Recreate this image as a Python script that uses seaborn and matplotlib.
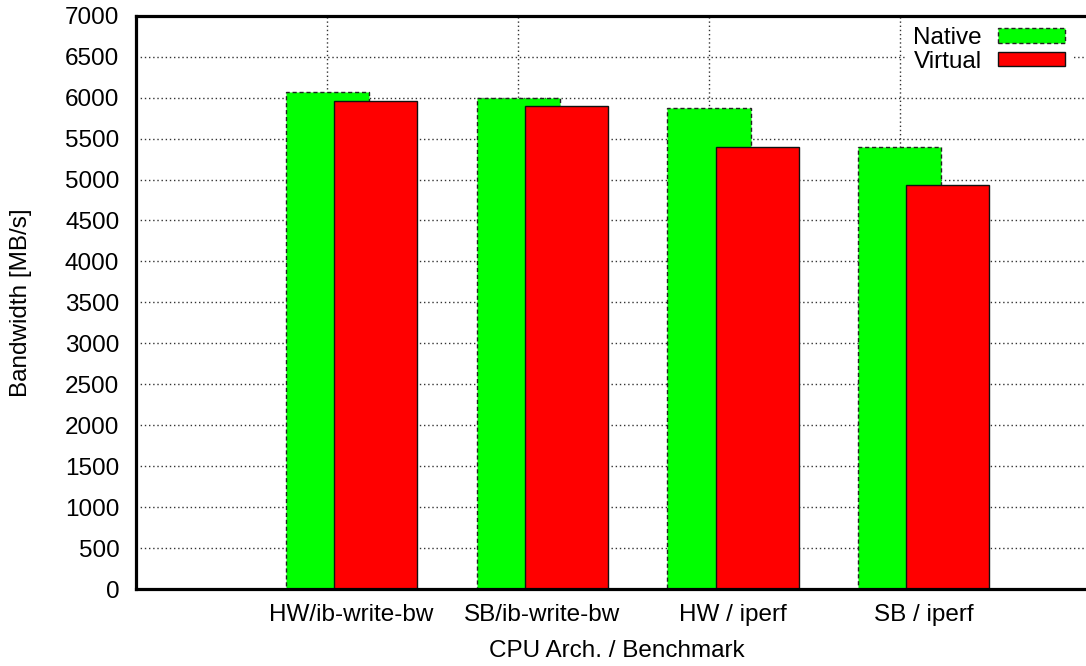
import numpy as np
import pandas as pd
import matplotlib
matplotlib.use("Agg")
import matplotlib.pyplot as plt
import seaborn as sns

categories = ["HW/ib-write-bw", "SB/ib-write-bw", "HW / iperf", "SB / iperf"]
native = [6065, 5995, 5875, 5395]
virtual = [5955, 5895, 5395, 4930]
yticks = list(range(0, 7001, 500))

sns.set_style("white")
plt.rcParams["font.family"] = ["Liberation Sans", "DejaVu Sans"]
plt.rcParams["text.color"] = "black"
plt.rcParams["axes.labelcolor"] = "black"
plt.rcParams["xtick.color"] = "black"
plt.rcParams["ytick.color"] = "black"
fs = 17.5

idx = np.arange(len(categories))
shift = 0.126
df_native = pd.DataFrame({"pos": idx - shift, "bw": native})
df_virtual = pd.DataFrame({"pos": idx + shift, "bw": virtual})

fig = plt.figure(figsize=(10.86, 6.66), dpi=100)
ax = fig.add_axes([136 / 1086, 77 / 666, 1 - 136 / 1086 + 0.01, (589 - 15.7) / 666])

sns.barplot(data=df_native, x="pos", y="bw", native_scale=True, orient="x",
            width=0.435, color="#00ff00", saturation=1, errorbar=None,
            edgecolor="#222222", linewidth=1.0, linestyle=(0, (3, 2)),
            label="Native", ax=ax)
sns.barplot(data=df_virtual, x="pos", y="bw", native_scale=True, orient="x",
            width=0.435, color="#ff0000", saturation=1, errorbar=None,
            edgecolor="#111111", linewidth=1.0,
            label="Virtual", ax=ax)

ax.set_xlim(-1.128, 3.846 + 0.06)
ax.set_ylim(0, 7000)
ax.set_yticks(yticks)
ax.set_yticklabels([str(v) for v in yticks], fontsize=fs)
ax.set_xticks(idx)
ax.set_xticklabels(categories, fontsize=fs)
ax.set_xticks(idx - shift, minor=True)

ax.tick_params(axis="y", direction="in", length=7, width=1.5, pad=12)
ax.tick_params(axis="x", which="both", length=0, pad=11)
ax.set_axisbelow(True)
ax.yaxis.grid(True, color="#333333", linestyle=(0, (1, 2)), linewidth=1)
ax.xaxis.grid(True, which="minor", color="#333333", linestyle=(0, (1, 2)), linewidth=1)
ax.xaxis.grid(False, which="major")

for side in ["left", "bottom", "top"]:
    ax.spines[side].set_linewidth(2.3)
    ax.spines[side].set_color("black")
ax.spines["right"].set_visible(False)

ax.set_xlabel("CPU Arch. / Benchmark", fontsize=fs, labelpad=10)
ax.set_ylabel("Bandwidth [MB/s]", fontsize=fs, labelpad=24)

leg = ax.legend(loc="upper right", bbox_to_anchor=(1072 / 1086, 1 - 20 / 666),
                bbox_transform=fig.transFigure, fontsize=fs, markerfirst=False,
                handlelength=2.75, handleheight=0.55, handletextpad=0.65,
                labelspacing=0.05, borderpad=0.3, borderaxespad=0,
                frameon=True, fancybox=False, framealpha=1)
leg.get_frame().set_edgecolor("none")
leg.get_frame().set_facecolor("white")

fig.savefig("out.png", dpi=100)
